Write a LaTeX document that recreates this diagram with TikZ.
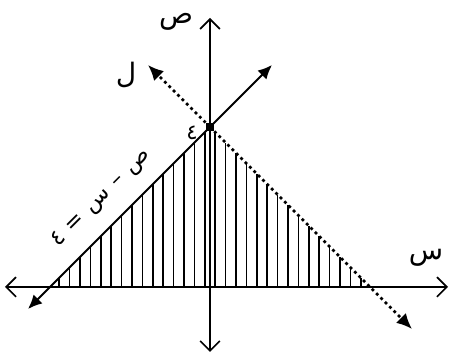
\documentclass[tikz,border=0pt]{standalone}
\usepackage{fontspec}
\newfontfamily\arabicfont[Script=Arabic]{DejaVu Sans}
\TeXXeTstate=1
\usetikzlibrary{arrows.meta}
\begin{document}
\begin{tikzpicture}[x=1cm,y=1cm,
  axisline/.style={line width=1.2pt, {Straight Barb[length=7pt,width=14pt,line width=1.2pt]}-{Straight Barb[length=7pt,width=14pt,line width=1.2pt]}},
  solidline/.style={line width=1.4pt, {Latex[length=10pt,width=9pt]}-{Latex[length=10pt,width=9pt]}},
  dotline/.style={line width=2pt, dash pattern=on 2pt off 2.4pt, -{Latex[length=11pt,width=10pt]}},
  hatch/.style={line width=1pt},
  lbl/.style={font=\arabicfont\fontsize{20}{24}\selectfont, inner sep=1pt},
  eqlbl/.style={font=\arabicfont\fontsize{16}{20}\selectfont, inner sep=1pt, rotate=45}]
\useasboundingbox (-5.25,-1.75) rectangle (6.15,7.175);
\coordinate (O) at (0,0);
\coordinate (xl) at (-5.125,0);
\coordinate (xr) at (5.95,0);
\coordinate (yt) at (0,6.725);
\coordinate (yb) at (0,-1.625);
\coordinate (P) at (0,4);
\coordinate (a1) at (-4.55,-0.55);
\coordinate (a2) at (1.55,5.55);
\coordinate (b1) at (-1.55,5.55);
\coordinate (b2) at (5.05,-1.05);
% hatching
\foreach \k in {0,...,14}{
  \pgfmathsetmacro\xx{0.13+0.26*\k}
  \draw[hatch] (\xx,0) -- (\xx,4-\xx);
  \draw[hatch] (-\xx,0) -- (-\xx,4-\xx);
}
% lines
\draw[solidline] (a1) -- (a2);
\draw[dotline] (P) -- (b1);
\draw[dotline] (P) -- (b2);
% axes
\draw[axisline] (xl) -- (xr);
\draw[axisline] (yb) -- (yt);
\node[fill, minimum size=5pt, inner sep=0pt] (pt) at (P) {};
% labels
\node[lbl] (ly) at (-0.85,6.62) {\beginR ص\endR};
\node[lbl] (lx) at (5.4,0.72) {\beginR س\endR};
\node[lbl] (ll) at (-2.1,5.3) {\beginR ل\endR};
\node[lbl, font=\arabicfont\fontsize{15}{18}\selectfont] (l4) at (-0.45,3.85) {\beginR ٤\endR};
\node[eqlbl] (leq) at (-2.72,2.22) {\beginR ص\hspace{6pt}–\hspace{6pt}س\hspace{6pt}=\hspace{6pt}٤\endR};
\end{tikzpicture}
\end{document}
